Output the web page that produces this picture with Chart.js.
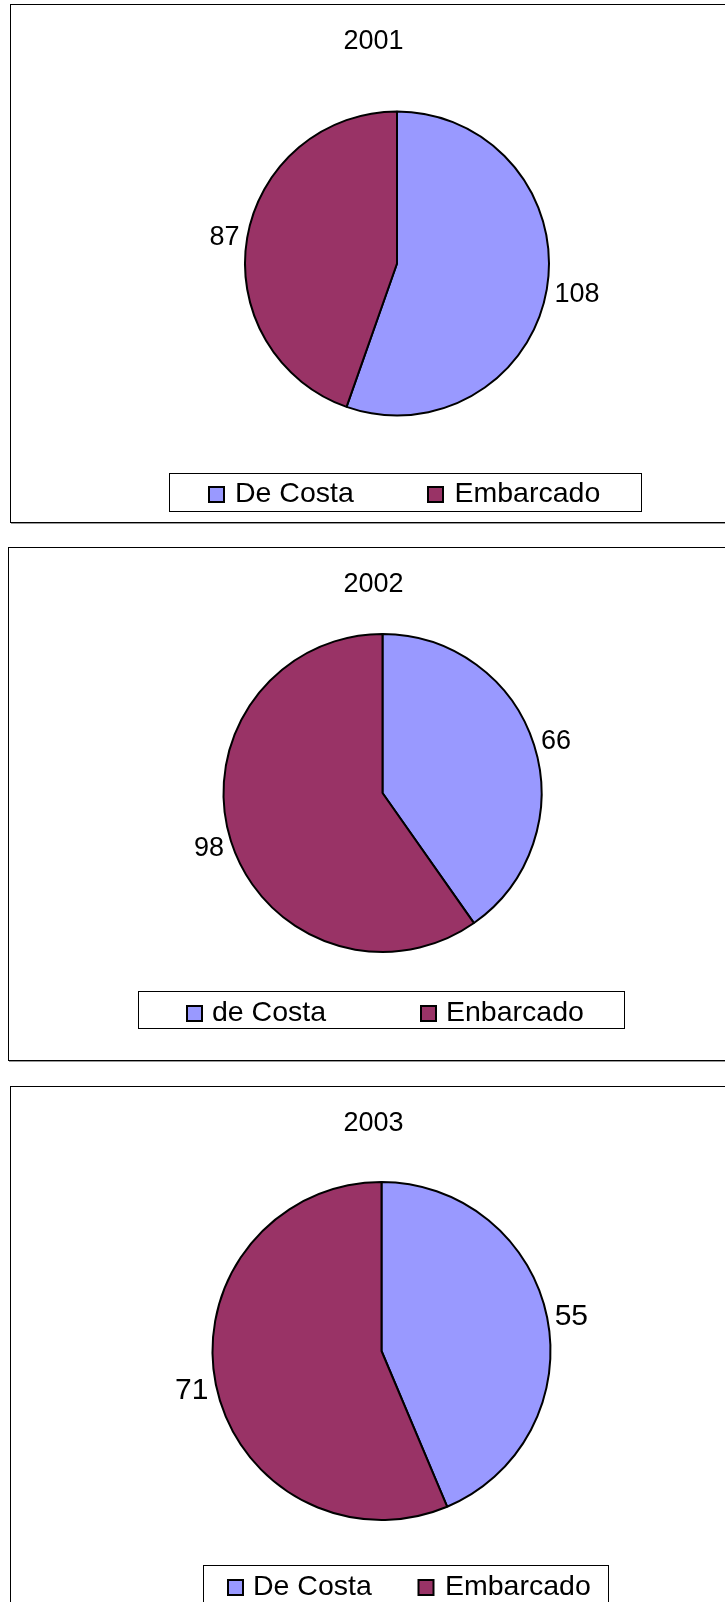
<!DOCTYPE html>
<html>
<head>
<meta charset="utf-8">
<title>Pesca 2001 - 2003</title>
<script src="https://cdn.jsdelivr.net/npm/chart.js"></script>
<style>
  body { margin: 0; background: #fff; width: 725px; height: 1602px; overflow: hidden; position: relative; }
  .panel { position: absolute; border: 1px solid #000; box-shadow: 1px 1px 0 #999; box-sizing: border-box; }
  canvas { position: absolute; }
</style>
</head>
<body>
<script>
// datos
var years = ['2001', '2002', '2003'];
var labels2001 = ['De Costa', 'Embarcado'];
var labels2002 = ['de Costa', 'Enbarcado'];
var labels2003 = ['De Costa', 'Embarcado'];
var values2001 = [108, 87];
var values2002 = [66, 98];
var values2003 = [55, 71];
var colors = ['#9999FF', '#993366'];

var FONT = '"Liberation Sans", Arial, sans-serif';

// posiciones en la pagina (solo maquetacion)
var layouts = [
  { box: [10, 4, 730, 523], center: [397, 263.5], r: 152, titleBase: 49, labelSize: 27,
    legend: [169, 473, 472, 38], markX: [209, 428], textX: [235, 454.5], legendBase: 502 },
  { box: [8, 547, 730, 1061], center: [382.5, 793], r: 159, titleBase: 592, labelSize: 27,
    legend: [138, 991, 486, 37], markX: [187, 421], textX: [212, 446], legendBase: 1021 },
  { box: [10, 1086, 730, 1650], center: [381.5, 1351], r: 169, titleBase: 1131, labelSize: 30,
    legend: [203, 1565, 405, 48], markX: [228, 418.5], textX: [253, 445], legendBase: 1595 }
];
var allLabels = [labels2001, labels2002, labels2003];
var allValues = [values2001, values2002, values2003];

function makeDecor(p, title) {
  return {
    id: 'decor',
    afterDraw: function(chart) {
      var ctx = chart.ctx;
      var ox = p.box[0], oy = p.box[1];
      ctx.save();
      ctx.fillStyle = '#000';
      ctx.textBaseline = 'alphabetic';

      // titulo
      ctx.textAlign = 'center';
      ctx.font = '27px ' + FONT;
      ctx.fillText(title, 373.5 - ox, p.titleBase - oy);

      // valores fuera del pastel
      ctx.font = p.labelSize + 'px ' + FONT;
      var meta = chart.getDatasetMeta(0);
      meta.data.forEach(function(arc, i) {
        var mid = (arc.startAngle + arc.endAngle) / 2;
        var ux = Math.cos(mid), uy = Math.sin(mid);
        var txt = String(chart.data.datasets[0].data[i]);
        var w = ctx.measureText(txt).width;
        var h = p.labelSize * 0.716;
        var d = arc.outerRadius + 8;
        var cx = arc.x + ux * d + ux * w / 2;
        var cy = arc.y + uy * d + uy * h / 2;
        ctx.fillText(txt, cx, cy + h / 2);
      });

      // leyenda
      var lg = p.legend;
      ctx.strokeStyle = '#000';
      ctx.lineWidth = 1;
      ctx.strokeRect(lg[0] - ox + 0.5, lg[1] - oy + 0.5, lg[2], lg[3]);
      ctx.textAlign = 'left';
      ctx.font = '28.5px ' + FONT;
      chart.data.labels.forEach(function(lab, i) {
        var mx = p.markX[i] - ox, my = p.legendBase - 15 - oy;
        ctx.fillStyle = chart.data.datasets[0].backgroundColor[i];
        ctx.fillRect(mx, my, 15, 15);
        ctx.lineWidth = 2;
        ctx.strokeRect(mx, my, 15, 15);
        ctx.fillStyle = '#000';
        ctx.fillText(lab, p.textX[i] - ox, p.legendBase - oy);
      });
      ctx.restore();
    }
  };
}

layouts.forEach(function(p, k) {
  var W = p.box[2] - p.box[0], H = p.box[3] - p.box[1];

  var div = document.createElement('div');
  div.className = 'panel';
  div.style.left = p.box[0] + 'px';
  div.style.top = p.box[1] + 'px';
  div.style.width = W + 'px';
  div.style.height = H + 'px';
  document.body.appendChild(div);

  var canvas = document.createElement('canvas');
  canvas.width = W;
  canvas.height = H;
  canvas.style.left = p.box[0] + 'px';
  canvas.style.top = p.box[1] + 'px';
  canvas.style.width = W + 'px';
  canvas.style.height = H + 'px';
  document.body.appendChild(canvas);

  // relleno para que el centro del area quede en el centro del pastel
  var cx = p.center[0] - p.box[0], cy = p.center[1] - p.box[1];
  var pad = { left: 0, right: 0, top: 0, bottom: 0 };
  if (2 * cx > W) pad.left = 2 * cx - W; else pad.right = W - 2 * cx;
  if (2 * cy > H) pad.top = 2 * cy - H; else pad.bottom = H - 2 * cy;

  new Chart(canvas, {
    type: 'pie',
    data: {
      labels: allLabels[k],
      datasets: [{
        data: allValues[k],
        backgroundColor: colors,
        borderColor: '#000',
        borderWidth: 2,
        radius: p.r
      }]
    },
    options: {
      responsive: false,
      animation: false,
      devicePixelRatio: 1,
      events: [],
      layout: { padding: pad },
      plugins: {
        legend: { display: false },
        tooltip: { enabled: false }
      }
    },
    plugins: [makeDecor(p, years[k])]
  });
});
</script>
</body>
</html>
